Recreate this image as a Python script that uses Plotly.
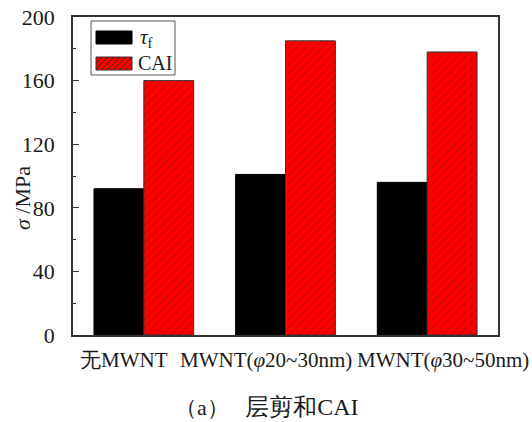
import plotly.graph_objects as go

categories = ["无MWNT", "MWNT(<i>φ</i>20~30nm)", "MWNT(<i>φ</i>30~50nm)"]
tau_f = [92, 101, 96]
cai = [160, 185, 178]
y_ticks = [0, 40, 80, 120, 160, 200]
label_shift = [-20, -20, 16]

SERIF = "'Times New Roman', 'Liberation Serif', serif"
TXT = "#1a1a1a"

# plot area in pixels
L, R, T, B = 73, 498, 17, 335
W, H = 532, 422


def px(x):
    return (x - L) / (R - L)


def py(y):
    return (B - y) / (B - T)


fig = go.Figure()
fig.add_trace(go.Bar(
    x=categories, y=tau_f, name="tau_f", showlegend=False,
    marker=dict(color="black", line=dict(color="black", width=1)),
))
fig.add_trace(go.Bar(
    x=categories, y=cai, name="CAI", showlegend=False,
    marker=dict(color="#ff0000", line=dict(color="#333333", width=1),
                pattern=dict(shape="/", bgcolor="#ff0000", fgcolor="#222222",
                             size=6, solidity=0.13)),
))

shapes = []
# legend box
shapes.append(dict(type="rect", xref="paper", yref="paper",
                   x0=px(91), x1=px(175), y0=py(75), y1=py(21),
                   line=dict(color="#555555", width=1), fillcolor="white", layer="above"))
# black swatch
shapes.append(dict(type="rect", xref="paper", yref="paper",
                   x0=px(96), x1=px(132), y0=py(44), y1=py(31),
                   line=dict(color="black", width=1), fillcolor="black", layer="above"))
# red hatched swatch
X0, X1, Y0, Y1 = 96, 132, 57, 70
shapes.append(dict(type="rect", xref="paper", yref="paper",
                   x0=px(X0), x1=px(X1), y0=py(Y1), y1=py(Y0),
                   line=dict(color="#333333", width=1), fillcolor="#ff0000", layer="above"))
hh = Y1 - Y0
segs = []
t = X0 - hh
while t < X1:
    s0 = max(0, X0 - t)
    s1 = min(hh, X1 - t)
    if s1 > s0:
        segs.append("M%.5f,%.5f L%.5f,%.5f" % (px(t + s0), py(Y1 - s0), px(t + s1), py(Y1 - s1)))
    t += 6
shapes.append(dict(type="path", xref="paper", yref="paper", path=" ".join(segs),
                   line=dict(color="#222222", width=0.8), layer="above"))

annotations = [
    dict(text="<i>τ</i><sub>f</sub>", x=px(138), y=py(38), xref="paper", yref="paper",
         xanchor="left", yanchor="middle", showarrow=False,
         font=dict(family=SERIF, size=21, color=TXT)),
    dict(text="CAI", x=px(136), y=py(63), xref="paper", yref="paper",
         xanchor="left", yanchor="middle", showarrow=False,
         font=dict(family=SERIF, size=20, color=TXT)),
    dict(text="<i>σ</i> /MPa", x=px(22), y=py(198), xref="paper", yref="paper",
         textangle=-90, xanchor="center", yanchor="middle", showarrow=False,
         font=dict(family=SERIF, size=22, color=TXT)),
    dict(text="（a）   <span style='font-size:24px'>层剪和CAI</span>",
         x=px(173), y=py(407), xref="paper", yref="paper",
         xanchor="left", yanchor="middle", showarrow=False,
         font=dict(family=SERIF, size=22, color=TXT)),
]
for c, sh in zip(categories, label_shift):
    annotations.append(dict(text=c, x=c, y=0, xref="x", yref="y", xshift=sh, yshift=-25,
                            xanchor="center", yanchor="middle", showarrow=False,
                            font=dict(family=SERIF, size=21, color=TXT)))

fig.update_layout(
    width=W, height=H,
    margin=dict(l=L, r=W - R, t=T, b=H - B, autoexpand=False),
    paper_bgcolor="white", plot_bgcolor="white",
    barmode="group", bargap=0.296, bargroupgap=0,
    font=dict(family=SERIF, size=20, color=TXT),
    showlegend=False,
    xaxis=dict(range=[-0.5, 2.5], showline=True, linecolor="#333333", linewidth=1.5,
               mirror=True, ticks="", showgrid=False, showticklabels=False, automargin=False),
    yaxis=dict(range=[0, 200], tickvals=y_ticks, showline=True, linecolor="#333333",
               linewidth=1.5, mirror=True, ticks="inside", ticklen=6, tickwidth=1.2,
               tickcolor="#333333", showgrid=False, zeroline=False, automargin=False,
               ticklabelstandoff=12,
               minor=dict(dtick=20, ticks="inside", ticklen=3, tickcolor="#333333"),
               tickfont=dict(family=SERIF, size=22, color=TXT)),
    shapes=shapes,
    annotations=annotations,
)

fig.write_html("out.html", config={"displayModeBar": False})
with open("out.html", "r", encoding="utf-8") as f:
    html = f.read()
html = html.replace("<head>", "<head><style>html,body{margin:0;padding:0;}</style>", 1)
with open("out.html", "w", encoding="utf-8") as f:
    f.write(html)
